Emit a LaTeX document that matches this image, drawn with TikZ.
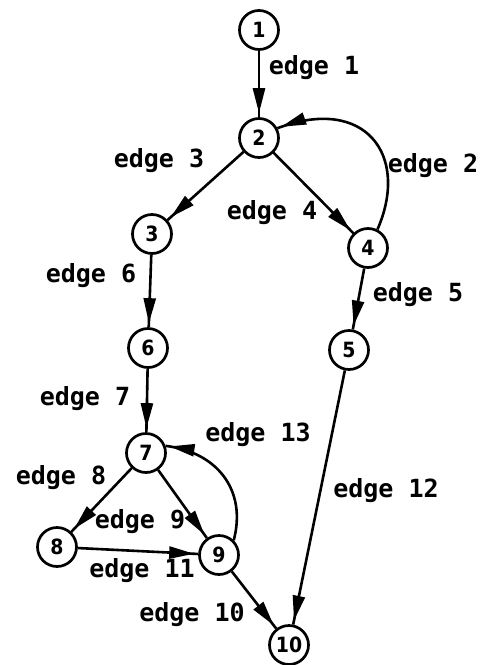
\documentclass[tikz,border=0pt]{standalone}
\usepackage{fontspec}
\setmonofont{DejaVu Sans Mono}
\newfontfamily\digitfont{DejaVu Sans Condensed}
\usetikzlibrary{arrows.meta,decorations.markings}

\tikzset{
  vertex/.style={circle, draw, line width=2.7pt, minimum size=39pt, inner sep=0pt,
                 font=\digitfont\bfseries\fontsize{21}{21}\selectfont},
  elabel/.style={inner sep=0pt, font=\ttfamily\bfseries\fontsize{25}{25}\selectfont},
  link/.style={line width=2.6pt, postaction={decorate},
    decoration={markings, mark=at position -4pt with
      {\arrow{Triangle[length=25pt,width=12pt]}}}}
}

\begin{document}
\begin{tikzpicture}[x=1pt, y=-1pt]
  \useasboundingbox (0,0) rectangle (488,665);

  % vertices
  \node[vertex] (n1)  at (259,30)  {1};
  \node[vertex] (n2)  at (259,138) {2};
  \node[vertex] (n3)  at (152,234) {3};
  \node[vertex] (n4)  at (368,248) {4};
  \node[vertex] (n5)  at (349,350) {5};
  \node[vertex] (n6)  at (148,348) {6};
  \node[vertex] (n7)  at (146,453) {7};
  \node[vertex] (n8)  at (57,547)  {8};
  \node[vertex] (n9)  at (219,555) {9};
  \node[vertex] (n10) at (289,645) {10};

  % straight edges
  \draw[link] (n1) -- (n2);
  \draw[link] (n2) -- (n3);
  \draw[link] (n2) -- (n4);
  \draw[link] (n4) -- (n5);
  \draw[link] (n3) -- (n6);
  \draw[link] (n6) -- (n7);
  \draw[link] (n7) -- (n8);
  \draw[link] (n7) -- (n9);
  \draw[link] (n8) -- (n9);
  \draw[link] (n9) -- (n10);
  \draw[link] (n5) -- (n10);

  % back edges
  \draw[link] (n4.63) .. controls (410,155) and (365,95) .. (n2.28);
  \draw[link] (n9.45) .. controls (247,490) and (217,452) .. (n7.20);

  % edge labels
  \node[elabel] (l1)  at (314,68)  {edge 1};
  \node[elabel] (l2)  at (433,166) {edge 2};
  \node[elabel] (l3)  at (159,161) {edge 3};
  \node[elabel] (l4)  at (272,213) {edge 4};
  \node[elabel] (l5)  at (418,295) {edge 5};
  \node[elabel] (l6)  at (91,276)  {edge 6};
  \node[elabel] (l7)  at (85,399)  {edge 7};
  \node[elabel] (l8)  at (61,478)  {edge 8};
  \node[elabel] (l9)  at (140,522) {edge 9};
  \node[elabel] (l10) at (192,615) {edge 10};
  \node[elabel] (l11) at (142,571) {edge 11};
  \node[elabel] (l12) at (386,491) {edge 12};
  \node[elabel] (l13) at (258,435) {edge 13};
\end{tikzpicture}
\end{document}
